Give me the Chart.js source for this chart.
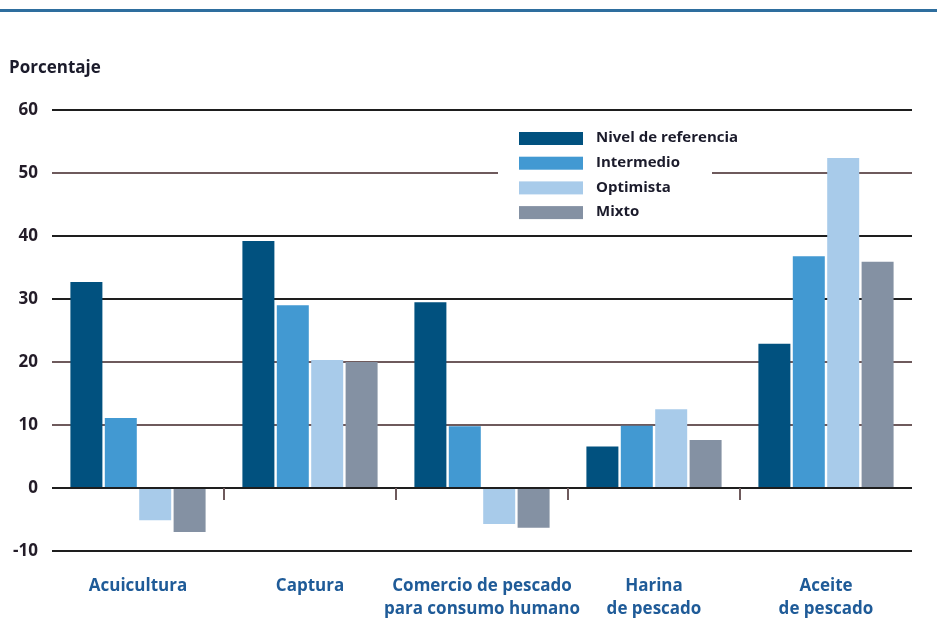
<!DOCTYPE html>
<html>
<head>
<meta charset="utf-8">
<script src="https://cdn.jsdelivr.net/npm/chart.js@4"></script>
<style>
	html, body { margin: 0; padding: 0; background: #fff; }
	#wrap { position: relative; width: 937px; height: 619px; }
	#topline { position: absolute; left: 0; top: 9px; width: 937px; height: 3px; background: #2e6e9e; }
</style>
</head>
<body>
<div id="wrap">
	<div id="topline"></div>
	<canvas id="chart" width="937" height="619"></canvas>
</div>
<script>
const categories = [
	["Acuicultura"],
	["Captura"],
	["Comercio de pescado", "para consumo humano"],
	["Harina", "de pescado"],
	["Aceite", "de pescado"],
];
const seriesNames = ["Nivel de referencia", "Intermedio", "Optimista", "Mixto"];
const nivelRef = [32.7, 39.2, 29.5, 6.6, 22.9];
const intermedio = [11.1, 29.0, 9.8, 9.9, 36.8];
const optimista = [-5.1, 20.3, -5.7, 12.5, 52.4];
const mixto = [-7.0, 20.0, -6.3, 7.6, 35.9];
const yTicks = [-10, 0, 10, 20, 30, 40, 50, 60];

const colors = ["#01517f", "#4299d2", "#a8cbea", "#8491a3"];
const brownLines = [50, 20, 10];

// title, legend box and category ticks
const extras = {
	id: "extras",
	beforeDatasetsDraw(chart) {
		const ctx = chart.ctx;
		const x = chart.scales.x;
		const y = chart.scales.y;
		// white box behind legend
		ctx.save();
		ctx.fillStyle = "#fff";
		ctx.fillRect(498, 126, 214, 100);
		// small ticks between groups
		ctx.strokeStyle = "#6e5a5c";
		ctx.lineWidth = 2;
		const y0 = y.getPixelForValue(0);
		for (let i = 1; i < categories.length; i++) {
			const px = (x.getPixelForValue(i - 1) + x.getPixelForValue(i)) / 2;
			ctx.beginPath();
			ctx.moveTo(px, y0);
			ctx.lineTo(px, y0 + 12);
			ctx.stroke();
		}
		ctx.restore();
	},
	afterDraw(chart) {
		const ctx = chart.ctx;
		ctx.save();
		ctx.fillStyle = "#1b1b2b";
		ctx.font = "bold 17px 'Open Sans'";
		ctx.textBaseline = "middle";
		ctx.fillText("Porcentaje", 9, 68);

		seriesNames.forEach((name, i) => {
			const ly = 138 + i * 24.7;
			ctx.fillStyle = colors[i];
			ctx.fillRect(519, ly - 6, 64, 13);
			ctx.fillStyle = "#1b1b2b";
			ctx.font = "bold 15px 'Open Sans'";
			ctx.fillText(name, 596, ly);
		});
		ctx.restore();
	},
};

new Chart(document.getElementById("chart"), {
	type: "bar",
	data: {
		labels: categories,
		datasets: [nivelRef, intermedio, optimista, mixto].map((d, i) => ({
			label: seriesNames[i],
			data: d,
			backgroundColor: colors[i],
			borderWidth: 0,
			categoryPercentage: 0.8,
			barPercentage: 0.93,
		})),
	},
	options: {
		responsive: false,
		animation: false,
		layout: {
			padding: { top: 110, right: 25, left: 0, bottom: 0 },
		},
		plugins: {
			legend: { display: false },
			tooltip: { enabled: false },
		},
		scales: {
			x: {
				grid: { display: false },
				border: { display: false },
				afterFit: (scale) => {
					scale.height = 68;
				},
				ticks: {
					color: "#1f5b98",
					padding: 15,
					maxRotation: 0,
					minRotation: 0,
					autoSkip: false,
					font: { family: "'Open Sans'", size: 17, weight: "bold", lineHeight: 1.38 },
				},
			},
			y: {
				min: -10,
				max: 60,
				afterBuildTicks: (scale) => {
					scale.ticks = yTicks.map((v) => ({ value: v }));
				},
				afterFit: (scale) => {
					scale.width = 52;
				},
				border: { display: false },
				grid: {
					drawTicks: false,
					lineWidth: 2,
					color: (c) => (brownLines.includes(c.tick.value) ? "#6e5a5c" : "#1e1e1e"),
				},
				ticks: {
					color: "#231c28",
					padding: 14,
					font: { family: "'Open Sans'", size: 17, weight: "bold" },
				},
			},
		},
	},
	plugins: [extras],
});
</script>
</body>
</html>
